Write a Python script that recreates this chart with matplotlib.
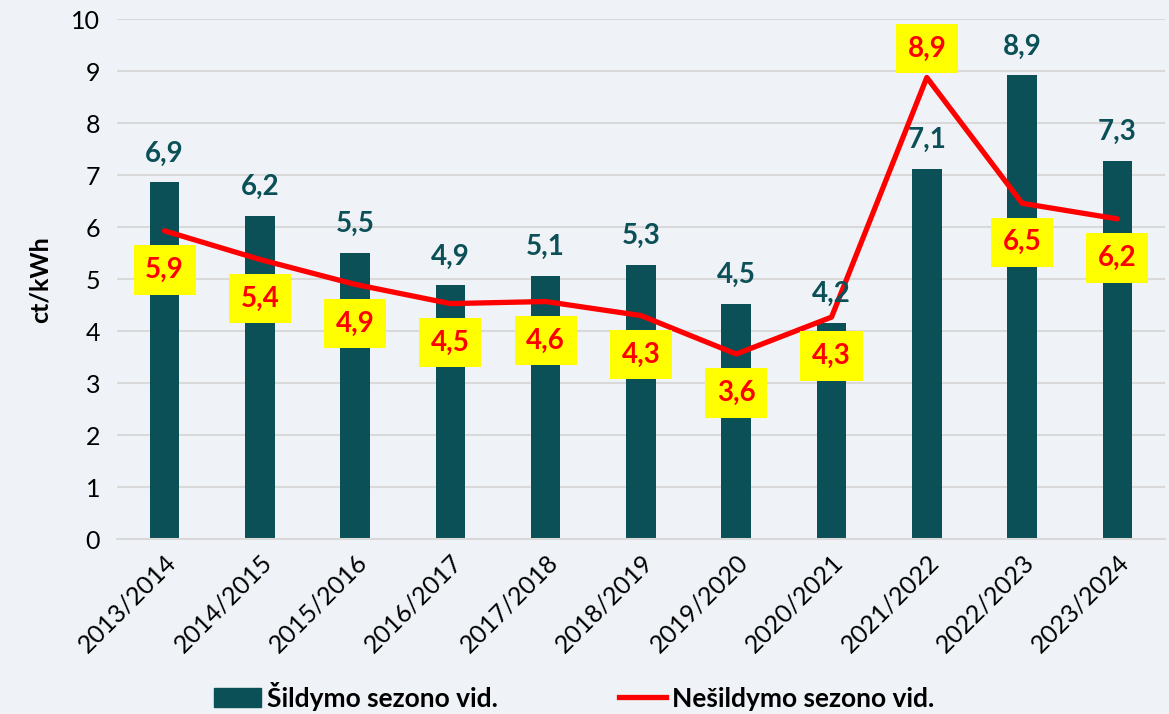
import numpy as np
import matplotlib.pyplot as plt
from matplotlib.patches import Patch
from matplotlib.lines import Line2D

seasons = ['2013/2014', '2014/2015', '2015/2016', '2016/2017', '2017/2018',
           '2018/2019', '2019/2020', '2020/2021', '2021/2022', '2022/2023',
           '2023/2024']
heating = [6.86, 6.22, 5.5, 4.88, 5.07, 5.28, 4.52, 4.16, 7.12, 8.92, 7.27]
non_heating = [5.93, 5.38, 4.9, 4.53, 4.57, 4.3, 3.56, 4.27, 8.88, 6.46, 6.16]

bg = '#eff3f7'
bar_color = '#0b4f57'
plt.rcParams['font.family'] = ['Lato', 'DejaVu Sans']

fig = plt.figure(figsize=(11.69, 7.14), dpi=100, facecolor=bg)
ax = fig.add_axes([0.1, 0.245, 0.8966, 0.728])
ax.set_facecolor(bg)

x = np.arange(len(seasons))
ax.bar(x, heating, width=0.31, color=bar_color, zorder=2)
ax.plot(x, non_heating, color='#ff0000', lw=3.8, zorder=3, solid_capstyle='round')

# bar value labels above bars
for xi, v in zip(x, heating):
    ax.annotate(f'{v:.1f}'.replace('.', ','), (xi, v), xytext=(0, 29),
                textcoords='offset pixels', ha='center', va='center',
                fontsize=20, fontweight='bold', color=bar_color, zorder=4)

# line labels in yellow boxes (below the point, above for the peak)
for xi, v in zip(x, non_heating):
    dy = 29 if v == max(non_heating) else -39
    ax.annotate(f'{v:.1f}'.replace('.', ','), (xi, v), xytext=(0, dy),
                textcoords='offset pixels', ha='center', va='center',
                fontsize=20, fontweight='bold', color='#ff0000', zorder=5,
                bbox=dict(boxstyle='square,pad=0.42', fc='#ffff00', ec='none'))

ax.set_xlim(-0.5, len(seasons) - 0.5)
ax.set_ylim(0, 10)
ax.set_yticks(range(0, 11))
ax.yaxis.grid(True, color='#d9d9d9', lw=1.5, zorder=0)
ax.set_axisbelow(True)
for s in ['top', 'right', 'left']:
    ax.spines[s].set_visible(False)
ax.spines['bottom'].set_color('#d9d9d9')
ax.spines['bottom'].set_linewidth(1.5)
ax.tick_params(length=0, labelsize=18, pad=12)
ax.set_xticks(x)
ax.set_xticklabels(seasons, rotation=45, ha='right', rotation_mode='anchor')
ax.tick_params(axis='x', pad=8)
ax.set_ylabel('ct/kWh', fontsize=18, fontweight='bold', labelpad=14)

handles = [Patch(color=bar_color), Line2D([0], [0], color='#ff0000', lw=3.8)]
fig.legend(handles, ['Šildymo sezono vid.', 'Nešildymo sezono vid.'],
           loc='center', bbox_to_anchor=(0.491, 0.025), ncol=2, frameon=False,
           prop={'size': 19, 'weight': 'bold'}, handlelength=1.8,
           handleheight=0.7, columnspacing=4.6, handletextpad=0.2)

fig.savefig('out.png', dpi=100, facecolor=bg)
